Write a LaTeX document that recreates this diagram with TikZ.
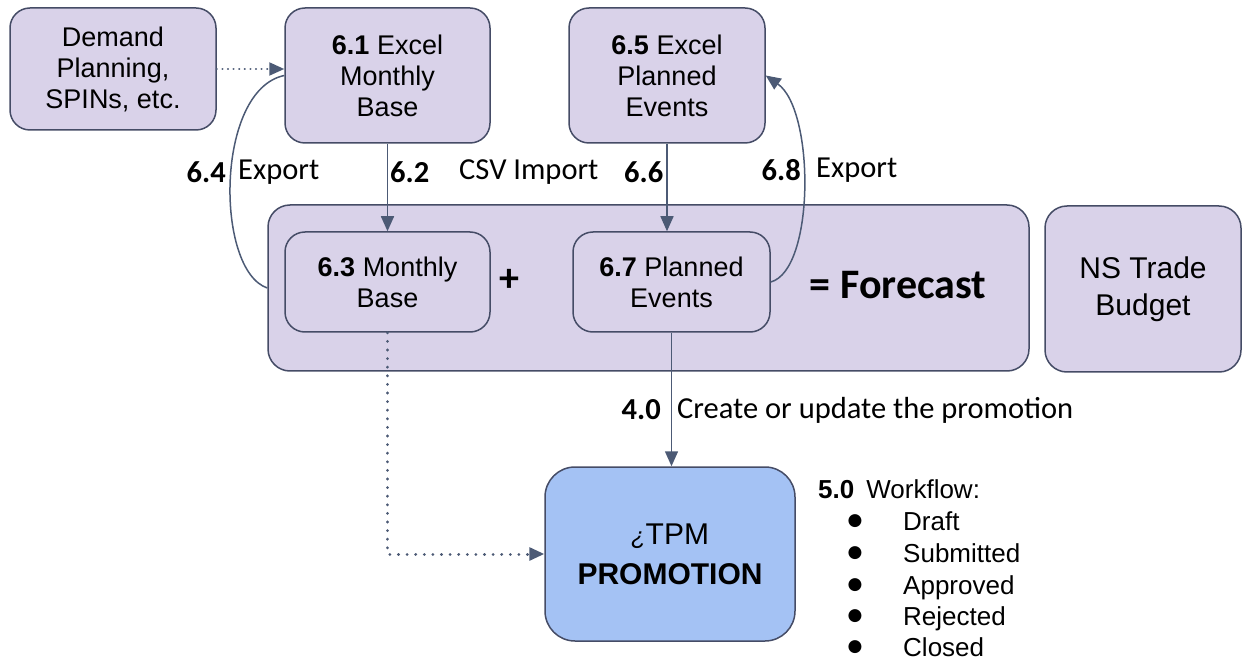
\documentclass[tikz,border=0pt]{standalone}
\usepackage{fontspec}
\setmainfont{Liberation Sans}
\newfontfamily\calf{Carlito}
\newfontfamily\symf{DejaVu Sans}
\usetikzlibrary{arrows.meta}
\definecolor{lav}{HTML}{D9D2E9}
\definecolor{bordc}{HTML}{454C66}
\definecolor{linec}{HTML}{4C5A75}
\definecolor{promof}{HTML}{A4C2F4}
\tikzset{
  box/.style={draw=bordc, fill=lav, line width=1.5pt, rounded corners=20pt, align=center, inner sep=0pt, font=\fontsize{27}{31}\selectfont},
  conn/.style={draw=linec, line width=1.5pt},
  tip/.style={-{Triangle[length=15pt,width=13pt]}},
  dotline/.style={conn, line width=3pt, line cap=round, dash pattern=on 0.1pt off 8.5pt},
  lbl/.style={inner sep=0pt, font=\calf\fontsize{30.5}{34}\selectfont},
  wf/.style={inner sep=0pt, anchor=base west, font=\fontsize{26}{30}\selectfont},
  bul/.style={inner sep=0pt, font=\symf\fontsize{17}{20}\selectfont}
}
\begin{document}
\begin{tikzpicture}[x=1pt,y=-1pt]
\useasboundingbox (0,0) rectangle (1243,660);
% boxes
\node[box, minimum width=206pt, minimum height=122pt] (demand) at (113,69) {Demand\\Planning,\\SPINs, etc.};
\node[box, minimum width=205pt, minimum height=135pt] (b61) at (387.5,75.5) {\textbf{6.1} Excel\\Monthly\\Base};
\node[box, minimum width=196pt, minimum height=135pt] (b65) at (667,75.5) {\textbf{6.5} Excel\\Planned\\Events};
\node[box, rounded corners=22pt, minimum width=761pt, minimum height=166pt] (fc) at (648.5,288) {};
\node[box, rounded corners=22pt, minimum width=196pt, minimum height=166pt, font=\fontsize{30}{37}\selectfont] (ns) at (1143,289) {NS Trade\\Budget};
\node[box, minimum width=205pt, minimum height=100pt] (b63) at (387.5,282) {\textbf{6.3} Monthly\\Base};
\node[box, minimum width=197pt, minimum height=100pt] (b67) at (671.5,282) {\textbf{6.7} Planned\\Events};
\node[box, fill=promof, rounded corners=30pt, minimum width=250pt, minimum height=174pt, font=\fontsize{30}{40}\selectfont] (promo) at (670,554) {{\itshape\fontsize{24}{24}\selectfont ¿}TPM\\\textbf{PROMOTION}};
% operators
\node[inner sep=0pt, font=\calf\bfseries\fontsize{40}{44}\selectfont] (plus) at (509,280) {+};
\node[inner sep=0pt, font=\calf\bfseries\fontsize{42}{46}\selectfont] (forecast) at (898,285) {= Forecast};
% connectors
\draw[dotline, line width=2.2pt, dash pattern=on 0.1pt off 5.5pt, tip] (demand.east) -- (demand.east -| b61.west);
\draw[conn] (fc.west) .. controls (215,270) and (215,90) .. (b61.west);
\draw[conn, tip] (b61.south) -- (b61.south |- b63.north);
\draw[conn, tip] (b65.south) -- (b65.south |- b67.north);
\draw[conn, tip] (b67.east) .. controls (815,270) and (815,110) .. (b65.east);
\draw[conn, tip] (b67.south) -- (b67.south |- promo.north);
\draw[dotline, tip] (b63.south) |- (promo.west);
% labels
\node[lbl, anchor=east] (l64) at (226,172) {\textbf{6.4}};
\node[lbl, anchor=west] (l64t) at (238,172) {Export};
\node[lbl, anchor=west] (l62) at (390,172) {\textbf{6.2}};
\node[lbl, anchor=west] (l62t) at (459,172) {CSV Import};
\node[lbl, anchor=west] (l66) at (624,172) {\textbf{6.6}};
\node[lbl, anchor=east] (l68) at (801,170) {\textbf{6.8}};
\node[lbl, anchor=west] (l68t) at (816,170) {Export};
\node[lbl, anchor=east] (l40) at (661,410) {\textbf{4.0}};
\node[lbl, anchor=west] (l40t) at (677,410) {Create or update the promotion};
% workflow
\node[wf] (w0) at (818,498) {\textbf{5.0}\hspace{12pt}Workflow:};
\node[wf] (w1) at (903,530) {Draft};
\node[wf] (w2) at (903,562) {Submitted};
\node[wf] (w3) at (903,594) {Approved};
\node[wf] (w4) at (903,625) {Rejected};
\node[wf] (w5) at (903,656) {Closed};
\foreach \n/\yy in {1/521,2/553,3/585,4/616,5/647}{
  \node[bul] (bu\n) at (855,\yy) {●};
}
\end{tikzpicture}
\end{document}
